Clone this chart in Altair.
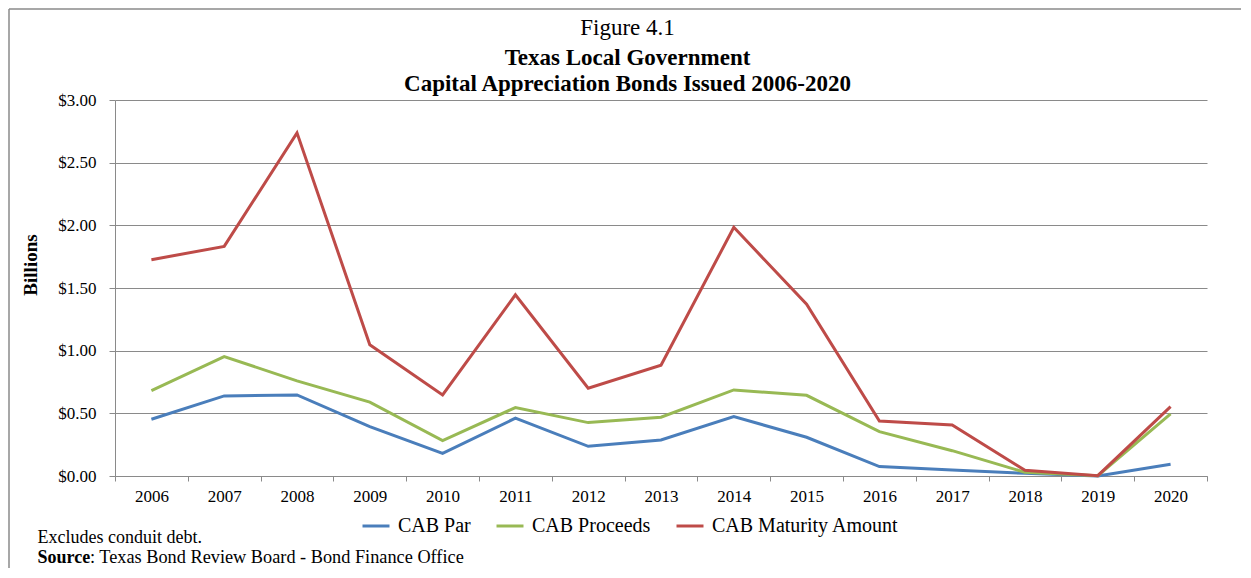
import altair as alt
import pandas as pd

years = [str(y) for y in range(2006, 2021)]
cab_par = [0.453, 0.639, 0.647, 0.394, 0.181, 0.461, 0.237, 0.288, 0.474, 0.309, 0.075, 0.048, 0.021, 0.000, 0.093]
cab_proceeds = [0.682, 0.953, 0.759, 0.589, 0.282, 0.546, 0.426, 0.469, 0.687, 0.644, 0.354, 0.202, 0.029, 0.003, 0.495]
cab_maturity = [1.726, 1.832, 2.738, 1.047, 0.647, 1.446, 0.700, 0.884, 1.984, 1.371, 0.439, 0.407, 0.045, 0.003, 0.554]
series_names = ["CAB Par", "CAB Proceeds", "CAB Maturity Amount"]
series_colors = ["#4A7EBB", "#98B954", "#BE4B48"]
y_ticks = [0, 0.5, 1.0, 1.5, 2.0, 2.5, 3.0]

rows = []
for name, vals in zip(series_names, [cab_par, cab_proceeds, cab_maturity]):
    for yr, v in zip(years, vals):
        rows.append({"year": yr, "value": v, "series": name})
df = pd.DataFrame(rows)

SERIF = "Liberation Serif"
GUIDE_FONT = "'Liberation Serif', 'Times New Roman', serif"
GRAY = "#8a8a8a"

lines = alt.Chart(df).mark_line(strokeWidth=3).encode(
    x=alt.X("year:O", sort=years, bandPosition=0.5,
            scale=alt.Scale(type="band", paddingInner=0, paddingOuter=0),
            axis=alt.Axis(title=None, tickBand="extent", labelAngle=0, tickSize=5,
                          labelPadding=7, grid=False, labelFont=GUIDE_FONT)),
    y=alt.Y("value:Q", scale=alt.Scale(domain=[0, 3], nice=False),
            axis=alt.Axis(title=None, values=y_ticks, format="$.2f", tickSize=6,
                          labelPadding=13, grid=True, labelFont=GUIDE_FONT)),
    color=alt.Color("series:N",
                    scale=alt.Scale(domain=series_names, range=series_colors),
                    legend=alt.Legend(title=None, orient="none", legendX=246, legendY=411,
                                      direction="horizontal", symbolType="stroke",
                                      symbolSize=729, symbolStrokeWidth=3,
                                      labelOffset=7, columnPadding=19, padding=0,
                                      labelLimit=0, labelFont=GUIDE_FONT)),
)


def txt(text, x, y, size, weight="normal", angle=0, align="center", baseline="alphabetic"):
    params = dict(font=SERIF, fontSize=size, fontWeight=weight, align=align,
                  baseline=baseline, color="black")
    if angle:
        params["angle"] = angle
    return alt.Chart(alt.Data(values=[{"t": text}])).mark_text(**params).encode(
        x=alt.value(x), y=alt.value(y), text="t:N")


texts = [
    txt("Figure 4.1", 512.5, -65, 23),
    txt("Texas Local Government", 512.5, -35, 23, "bold"),
    txt("Capital Appreciation Bonds Issued 2006-2020", 512.5, -9, 23, "bold"),
    txt("Billions", -84.5, 165, 19, "bold", angle=270, baseline="middle"),
    txt("Excludes conduit debt.", -77.5, 443, 18, align="left"),
    txt("Source", -77.5, 463, 18, "bold", align="left"),
    txt(": Texas Bond Review Board - Bond Finance Office", -25, 463, 18.3, align="left"),
]

frame_v = alt.Chart(alt.Data(values=[{"k": 1}])).mark_rule(color=GRAY, strokeWidth=1.5).encode(
    x=alt.value(-106), y=alt.value(-91), y2=alt.value(468))
frame_h = alt.Chart(alt.Data(values=[{"k": 1}])).mark_rule(color=GRAY, strokeWidth=1.5).encode(
    x=alt.value(-106), x2=alt.value(1126), y=alt.value(-91))

chart = alt.layer(lines, *texts, frame_v, frame_h).properties(
    width=1092, height=376, padding=0
).configure(
    font=SERIF,
    style={"guide-label": {"font": GUIDE_FONT, "fill": "black"}},
).configure_view(stroke=None).configure_axis(
    labelFont=GUIDE_FONT, labelFontSize=17, labelColor="black",
    domainColor=GRAY, tickColor=GRAY, gridColor=GRAY, gridWidth=1
).configure_legend(labelFont=GUIDE_FONT, labelFontSize=20, labelColor="black")

chart.save("out.html", embed_options={"renderer": "svg", "actions": False})
